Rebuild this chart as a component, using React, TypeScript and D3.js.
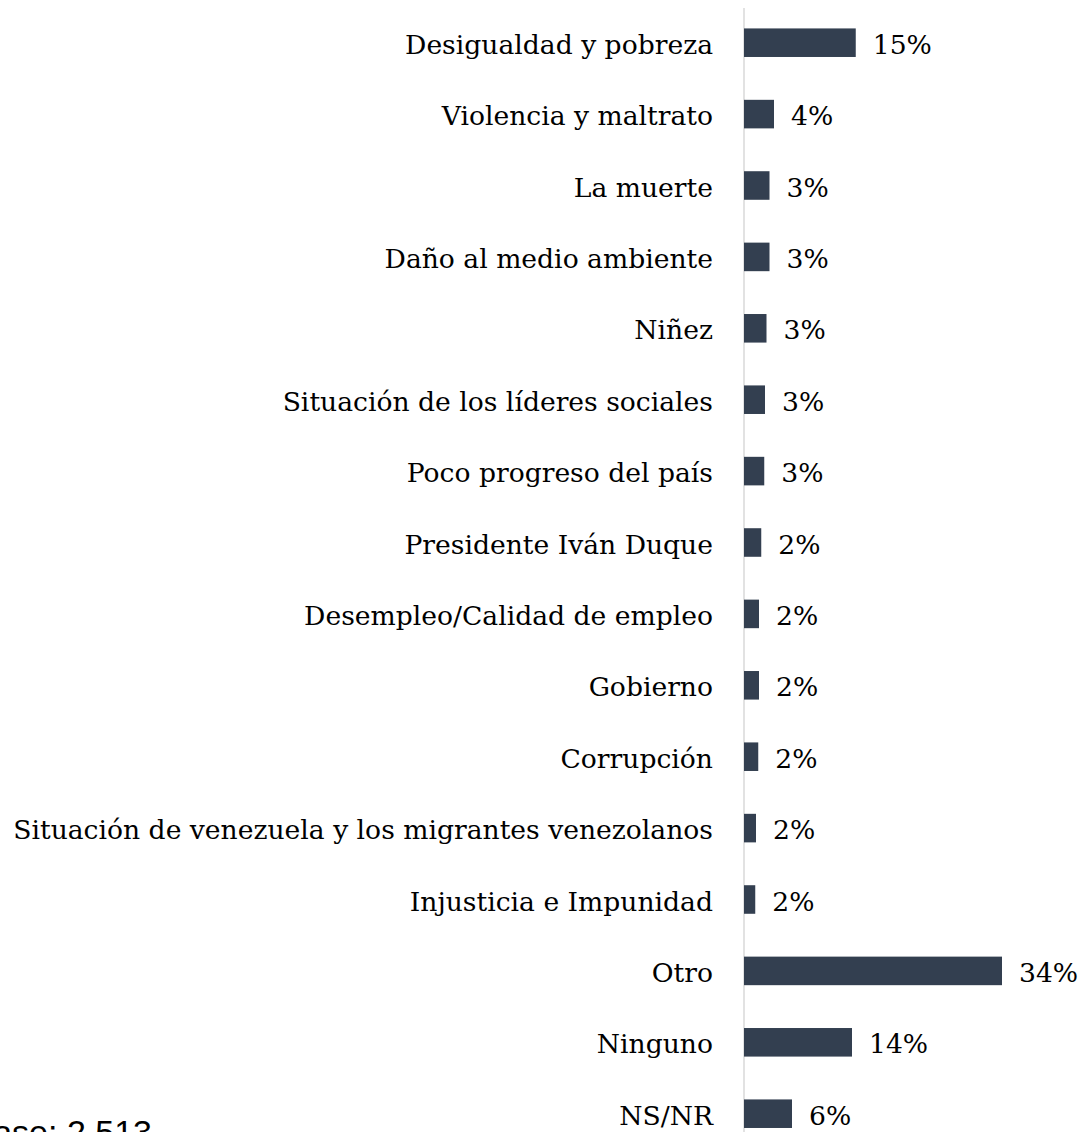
import React from 'react';
import * as d3 from 'd3';

const categories = [
  'Desigualdad y pobreza',
  'Violencia y maltrato',
  'La muerte',
  'Daño al medio ambiente',
  'Niñez',
  'Situación de los líderes sociales',
  'Poco progreso del país',
  'Presidente Iván Duque',
  'Desempleo/Calidad de empleo',
  'Gobierno',
  'Corrupción',
  'Situación de venezuela y los migrantes venezolanos',
  'Injusticia e Impunidad',
  'Otro',
  'Ninguno',
  'NS/NR',
];

// percentages
const values = [14.9, 4.0, 3.4, 3.4, 3.0, 2.8, 2.7, 2.3, 2.0, 2.0, 1.9, 1.6, 1.5, 34.4, 14.4, 6.4];

const baseNote = 'Base: 2.513';

const W = 1086;
const H = 1132;
const axisX = 744;
const barColor = '#333F50';
const serif = '"DejaVu Serif", "Liberation Serif", serif';

export default function App() {
  const x = d3.scaleLinear().domain([0, 40]).range([axisX, axisX + 300]);
  const y = d3
    .scaleBand<string>()
    .domain(categories)
    .range([7, 7 + 16 * 71.4])
    .paddingInner(0.6)
    .paddingOuter(0.3);

  return (
    <svg
      width={W}
      height={H}
      style={{ position: 'absolute', left: 0, top: 0, display: 'block', background: '#fff' }}
    >
      <line x1={axisX} x2={axisX} y1={8} y2={H} stroke="#D9D9D9" strokeWidth={1.5} />
      {categories.map((c, i) => {
        const cy = (y(c) ?? 0) + y.bandwidth() / 2;
        const v = values[i];
        return (
          <g key={c}>
            <rect x={x(0)} y={y(c)} width={x(v) - x(0)} height={y.bandwidth()} fill={barColor} />
            <text
              x={713}
              y={cy + 11}
              textAnchor="end"
              fontFamily={serif}
              fontSize={26.6}
              fill="#000"
            >
              {c}
            </text>
            <text x={x(v) + 17} y={cy + 11} fontFamily={serif} fontSize={26.6} fill="#000">
              {`${Math.round(v)}%`}
            </text>
          </g>
        );
      })}
      <text
        x={152}
        y={1144}
        textAnchor="end"
        fontFamily='"Liberation Sans", Arial, sans-serif'
        fontSize={34}
        fill="#000"
      >
        {baseNote}
      </text>
    </svg>
  );
}
